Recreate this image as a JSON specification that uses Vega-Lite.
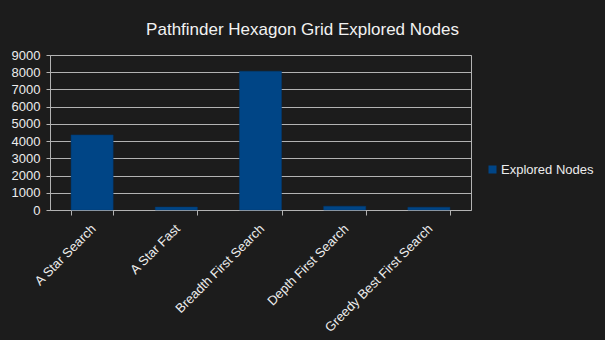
{
  "$schema": "https://vega.github.io/schema/vega-lite/v6.json",
  "width": 421,
  "height": 155,
  "autosize": "none",
  "padding": {"left": 50, "top": 55, "right": 134, "bottom": 130},
  "background": "#1c1c1c",
  "title": {
    "text": "Pathfinder Hexagon Grid Explored Nodes",
    "font": "Liberation Sans",
    "fontSize": 17,
    "fontWeight": "normal",
    "color": "#f2f2f2",
    "anchor": "middle",
    "frame": "group",
    "dx": 42,
    "offset": 10
  },
  "config": {
    "view": {"stroke": "#b3b3b3", "strokeWidth": 1},
    "font": "Liberation Sans"
  },
  "data": {
    "values": [
      {"algorithm": "A Star Search", "nodes": 4360, "series": "Explored Nodes"},
      {"algorithm": "A Star Fast", "nodes": 170, "series": "Explored Nodes"},
      {"algorithm": "Breadth First Search", "nodes": 8060, "series": "Explored Nodes"},
      {"algorithm": "Depth First Search", "nodes": 220, "series": "Explored Nodes"},
      {"algorithm": "Greedy Best First Search", "nodes": 160, "series": "Explored Nodes"}
    ]
  },
  "mark": {"type": "bar", "stroke": "#003a70", "strokeWidth": 0.5},
  "encoding": {
    "x": {
      "field": "algorithm",
      "type": "nominal",
      "sort": null,
      "scale": {"paddingInner": 0.5, "paddingOuter": 0.25},
      "axis": {
        "title": null,
        "labelAngle": -45,
        "labelFont": "Liberation Sans",
        "labelFontSize": 13,
        "labelColor": "#ececec",
        "tickBand": "extent",
        "tickColor": "#b3b3b3",
        "tickSize": 5,
        "domain": false,
        "labelPadding": 7,
        "labelOffset": -3
      }
    },
    "y": {
      "field": "nodes",
      "type": "quantitative",
      "scale": {"domain": [0, 9000], "nice": false},
      "axis": {
        "title": null,
        "values": [0, 1000, 2000, 3000, 4000, 5000, 6000, 7000, 8000, 9000],
        "format": "d",
        "labelFont": "Liberation Sans",
        "labelFontSize": 13,
        "labelColor": "#ececec",
        "tickColor": "#b3b3b3",
        "tickSize": 4,
        "labelPadding": 6,
        "gridColor": "#b3b3b3",
        "domain": false
      }
    },
    "color": {
      "field": "series",
      "type": "nominal",
      "scale": {"range": ["#004586"]},
      "legend": {
        "title": null,
        "orient": "none",
        "legendX": 436,
        "legendY": 108,
        "symbolType": "square",
        "symbolSize": 64,
        "symbolStrokeWidth": 0,
        "labelFont": "Liberation Sans",
        "labelFontSize": 13,
        "labelColor": "#ececec",
        "labelOffset": 2
      }
    }
  }
}
